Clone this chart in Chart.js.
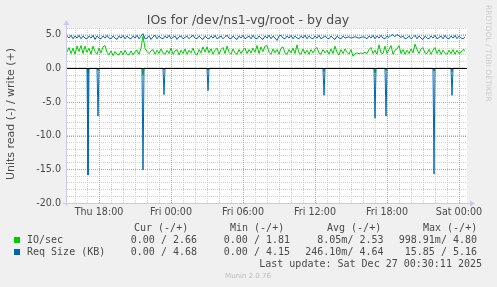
<!DOCTYPE html>
<html>
<head>
<meta charset="utf-8">
<script src="https://cdn.jsdelivr.net/npm/chart.js@4.4.1/dist/chart.umd.min.js"></script>
<style>
html, body { margin: 0; padding: 0; background: #f0f0f0; }
canvas { display: block; }
</style>
</head>
<body>
<canvas id="ioChart" width="497" height="287"></canvas>
<script>
// 10 minute samples, hours counted from Thu 00:00; first sample Thu 15:20
var startHour = 15 + 20 / 60;
var stepHours = 10 / 60;

// write side (+)
var ioWrite = [
    2.4, 3.1, 2.2, 3.0, 2.1, 3.3, 2.5, 3.4, 2.2, 3.3,
    2.4, 3.0, 2.1, 3.3, 2.5, 2.1, 3.0, 2.3, 3.2, 3.4,
    2.4, 2.0, 2.6, 1.9, 2.5, 2.1, 2.0, 2.6, 2.0, 2.7,
    2.1, 2.0, 2.6, 2.0, 2.5, 2.7, 2.1, 3.0, 4.8, 3.0,
    2.5, 2.2, 2.6, 2.8, 2.1, 2.7, 2.2, 2.9, 2.3, 2.1,
    2.7, 2.2, 3.0, 2.1, 2.6, 2.8, 2.0, 2.7, 2.2, 2.9,
    2.1, 2.7, 2.3, 3.0, 2.2, 2.0, 2.8, 2.3, 3.2, 2.4,
    3.2, 2.3, 2.9, 2.1, 2.7, 3.0, 2.1, 2.8, 3.1, 2.2,
    3.3, 2.4, 2.1, 2.9, 2.3, 2.1, 2.8, 2.2, 2.7, 3.0,
    2.2, 2.8, 2.3, 3.0, 2.4, 3.4, 2.2, 3.2, 2.5, 3.3,
    3.4, 2.4, 2.1, 2.9, 2.3, 2.8, 2.1, 3.0, 3.2, 2.3,
    2.1, 2.8, 2.3, 3.0, 2.2, 3.5, 2.3, 2.1, 2.9, 2.2,
    2.7, 2.1, 2.8, 2.3, 2.9, 3.1, 2.3, 2.1, 2.8, 2.3,
    2.7, 2.1, 2.9, 2.2, 3.3, 2.4, 2.0, 2.8, 2.2, 2.9,
    2.4, 2.1, 2.8, 1.81, 2.2, 2.3, 2.2, 2.3, 2.2, 2.4,
    2.2, 2.8, 3.1, 2.2, 2.7, 2.1, 3.5, 2.3, 2.2, 3.3,
    2.2, 2.8, 3.4, 2.1, 2.7, 2.9, 3.4, 2.2, 2.8, 2.1,
    2.7, 2.2, 2.9, 2.3, 3.6, 2.8, 2.2, 2.9, 3.1, 2.3,
    2.2, 2.8, 2.1, 2.7, 3.1, 2.2, 2.8, 2.1, 2.7, 2.3,
    2.1, 2.7, 2.2, 2.8, 2.1, 2.7, 2.2, 2.4, 2.8, 2.66
];
var reqSizeWrite = [
    4.8, 4.5, 4.9, 4.4, 4.8, 4.5, 4.9, 4.4, 4.8, 4.5,
    4.4, 4.8, 4.5, 4.9, 4.3, 4.8, 4.5, 4.4, 4.8, 4.5,
    4.9, 4.5, 4.4, 4.8, 4.5, 4.3, 4.8, 4.5, 4.9, 4.4,
    4.8, 4.5, 4.4, 4.8, 4.5, 4.9, 4.4, 4.8, 5.16, 4.4,
    4.5, 4.8, 4.3, 4.7, 4.9, 4.4, 4.8, 4.5, 4.4, 4.8,
    4.5, 4.9, 4.4, 4.6, 4.8, 4.3, 4.7, 4.8, 4.4, 4.6,
    4.8, 4.4, 4.7, 4.9, 4.5, 4.4, 4.8, 4.5, 4.3, 4.8,
    4.5, 4.4, 4.8, 4.5, 4.9, 4.4, 4.6, 4.8, 4.4, 4.7,
    4.9, 4.5, 4.4, 4.8, 4.5, 4.3, 4.8, 4.5, 4.9, 4.4,
    4.6, 4.8, 4.4, 4.9, 4.5, 4.4, 4.8, 4.5, 4.3, 4.8,
    4.5, 4.9, 4.4, 4.8, 4.5, 4.15, 4.8, 4.9, 4.5, 4.4,
    4.8, 4.5, 4.9, 4.4, 4.8, 4.5, 4.4, 4.8, 4.5, 4.9,
    4.4, 4.8, 4.5, 4.4, 4.8, 4.5, 4.9, 4.4, 4.6, 4.8,
    4.5, 4.4, 4.8, 4.5, 4.3, 4.8, 4.5, 4.4, 4.8, 4.5,
    4.6, 4.7, 4.5, 4.6, 4.7, 4.6, 4.5, 4.6, 4.7, 4.6,
    4.4, 4.8, 4.5, 4.9, 4.4, 4.8, 4.5, 4.9, 4.5, 4.4,
    4.8, 4.6, 4.9, 5.0, 4.7, 5.05, 4.8, 4.6, 4.8, 4.4,
    4.5, 4.8, 4.4, 4.6, 4.9, 4.4, 4.8, 4.5, 4.3, 4.8,
    4.5, 4.4, 4.8, 4.5, 4.9, 4.4, 4.6, 4.8, 4.4, 4.9,
    4.5, 4.4, 4.8, 4.5, 4.9, 4.4, 4.8, 4.5, 4.4, 4.68
];

// read side (-): zero apart from short bursts at these times
var readTimes = [17 + 5 / 60, 17 + 55 / 60, 21 + 40 / 60, 23 + 25 / 60, 27 + 5 / 60,
                 36 + 45 / 60, 41, 41 + 55 / 60, 45 + 55 / 60, 47 + 25 / 60];
var ioRead = [0.6, 0.3, 1.0, 0.2, 0.3, 0.5, 0.7, 0.3, 0.4, 0.5];
var reqSizeRead = [15.85, 7.1, 15.1, 3.9, 3.3, 4.0, 7.4, 7.1, 15.7, 4.0];

var tickHours = [18, 24, 30, 36, 42, 48];
var tickLabels = ['Thu 18:00', 'Fri 00:00', 'Fri 06:00', 'Fri 12:00', 'Fri 18:00', 'Sat 00:00'];
var yMajor = [-20, -15, -10, -5, 0, 5];

var statHeaders = ['Cur (-/+)', 'Min (-/+)', 'Avg (-/+)', 'Max (-/+)'];
var ioStats = ['0.00 / 2.66', '0.00 / 1.81', '8.05m/ 2.53', '998.91m/ 4.80'];
var reqStats = ['0.00 / 4.68', '0.00 / 4.15', '246.10m/ 4.64', '15.85 / 5.16'];

var green = '#00cc00';
var blue = '#0066b3';
var textColor = '#4a4a4a';
var minorGrid = '#d0d0d0';
var majorGrid = '#ef8f8f';
var axisColor = '#c8c8f0';

var lastHour = startHour + (ioWrite.length - 1) * stepHours;

function writePoints(values) {
    return values.map(function (v, i) {
        return { x: startHour + i * stepHours, y: v };
    });
}

function readPoints(values) {
    var pts = [{ x: startHour, y: 0 }];
    readTimes.forEach(function (t, i) {
        pts.push({ x: t - 5 / 60, y: 0 }, { x: t, y: -values[i] }, { x: t + 5 / 60, y: 0 });
    });
    pts.push({ x: lastHour, y: 0 });
    return pts;
}

// background, major grid, zero rule, axis arrows and all the rrdtool style text
var muninLook = {
    id: 'muninLook',
    beforeDraw: function (chart) {
        var c = chart.ctx, a = chart.chartArea;
        c.save();
        c.fillStyle = '#f0f0f0';
        c.fillRect(0, 0, chart.width, chart.height);
        c.fillStyle = '#ffffff';
        c.fillRect(a.left, a.top, a.right - a.left, a.bottom - a.top);
        c.restore();
    },
    beforeDatasetsDraw: function (chart) {
        var c = chart.ctx, a = chart.chartArea;
        var xs = chart.scales.x, ys = chart.scales.y;
        c.save();
        c.strokeStyle = majorGrid;
        c.lineWidth = 1;
        c.setLineDash([1, 1]);
        c.beginPath();
        tickHours.forEach(function (h) {
            var px = Math.round(xs.getPixelForValue(h)) + 0.5;
            c.moveTo(px, a.top);
            c.lineTo(px, a.bottom);
        });
        yMajor.forEach(function (v) {
            var py = Math.round(ys.getPixelForValue(v)) + 0.5;
            c.moveTo(a.left, py);
            c.lineTo(a.right, py);
        });
        c.stroke();
        c.restore();
    },
    afterDatasetsDraw: function (chart) {
        var c = chart.ctx, a = chart.chartArea;
        var y0 = Math.round(chart.scales.y.getPixelForValue(0)) + 0.5;
        c.save();
        c.strokeStyle = '#000000';
        c.lineWidth = 1;
        c.beginPath();
        c.moveTo(a.left, y0);
        c.lineTo(a.right, y0);
        c.stroke();

        // axes with arrow heads
        c.strokeStyle = axisColor;
        c.fillStyle = axisColor;
        c.beginPath();
        c.moveTo(a.left - 0.5, a.bottom + 3);
        c.lineTo(a.left - 0.5, a.top - 4);
        c.moveTo(a.left - 4, a.bottom + 0.5);
        c.lineTo(a.right + 3, a.bottom + 0.5);
        c.stroke();
        c.beginPath();
        c.moveTo(a.left - 3.5, a.top - 3);
        c.lineTo(a.left + 2.5, a.top - 3);
        c.lineTo(a.left - 0.5, a.top - 8);
        c.closePath();
        c.fill();
        c.beginPath();
        c.moveTo(a.right + 3, a.bottom - 2.5);
        c.lineTo(a.right + 3, a.bottom + 3.5);
        c.lineTo(a.right + 8, a.bottom + 0.5);
        c.closePath();
        c.fill();
        c.restore();
    },
    afterDraw: function (chart) {
        var c = chart.ctx;
        c.save();
        c.fillStyle = textColor;
        c.textBaseline = 'alphabetic';
        c.textAlign = 'center';
        c.font = '12.5px "DejaVu Sans"';
        c.fillText('IOs for /dev/ns1-vg/root - by day', 248, 24);

        // y axis title
        c.save();
        c.translate(11, 114);
        c.rotate(-Math.PI / 2);
        c.font = '11px "DejaVu Sans"';
        c.textBaseline = 'middle';
        c.fillText('Units read (-) / write (+)', 0, 0);
        c.restore();

        // vertical watermark on the right
        c.save();
        c.translate(488, 5);
        c.rotate(Math.PI / 2);
        c.font = '7.5px "DejaVu Sans"';
        c.fillStyle = '#cccccc';
        c.textAlign = 'left';
        c.textBaseline = 'middle';
        c.fillText('RRDTOOL / TOBI OETIKER', 0, 0);
        c.restore();

        // legend
        c.font = '10px "DejaVu Sans Mono"';
        c.textBaseline = 'middle';
        c.textAlign = 'left';
        var headX = [134, 230, 327, 423];
        statHeaders.forEach(function (h, i) { c.fillText(h, headX[i], 228); });

        c.fillStyle = green;
        c.fillRect(14, 237, 6, 6);
        c.fillStyle = blue;
        c.fillRect(14, 249, 6, 6);

        c.fillStyle = textColor;
        c.fillText('IO/sec', 27, 240);
        c.fillText('Req Size (KB)', 27, 252);
        var endX = [197, 290, 383.5, 477];
        c.textAlign = 'right';
        ioStats.forEach(function (s, i) { c.fillText(s, endX[i], 240); });
        reqStats.forEach(function (s, i) { c.fillText(s, endX[i], 252); });
        c.fillText('Last update: Sat Dec 27 00:30:11 2025', 482, 264);

        c.textAlign = 'center';
        c.font = '7px "DejaVu Sans"';
        c.fillStyle = '#bbbbbb';
        c.fillText('Munin 2.0.76', 248, 276);
        c.restore();
    }
};

var ctx = document.getElementById('ioChart').getContext('2d');
var ioChart = new Chart(ctx, {
    type: 'line',
    data: {
        datasets: [{
            label: 'Req Size (KB) write',
            data: writePoints(reqSizeWrite),
            borderColor: blue,
            order: 0
        }, {
            label: 'Req Size (KB) read',
            data: readPoints(reqSizeRead),
            borderColor: blue,
            order: 1
        }, {
            label: 'IO/sec write',
            data: writePoints(ioWrite),
            borderColor: green,
            order: 2
        }, {
            label: 'IO/sec read',
            data: readPoints(ioRead),
            borderColor: green,
            order: 3
        }]
    },
    options: {
        responsive: false,
        animation: false,
        devicePixelRatio: 1,
        elements: {
            point: { radius: 0 },
            line: { borderWidth: 1, tension: 0, fill: false }
        },
        layout: { padding: { top: 28, right: 30, bottom: 0, left: 0 } },
        plugins: {
            legend: { display: false },
            title: { display: false },
            tooltip: { enabled: false }
        },
        scales: {
            x: {
                type: 'linear',
                min: startHour,
                max: 48 + 40 / 60,
                afterFit: function (scale) { scale.height = 84; },
                ticks: {
                    stepSize: 1,
                    includeBounds: false,
                    autoSkip: false,
                    maxRotation: 0,
                    padding: 4,
                    color: textColor,
                    font: { family: 'DejaVu Sans', size: 9.6 },
                    callback: function (v) {
                        var k = tickHours.indexOf(v);
                        return k >= 0 ? tickLabels[k] : '';
                    }
                },
                grid: { drawTicks: false, color: minorGrid },
                border: { display: false, dash: [1, 1] }
            },
            y: {
                min: -20,
                max: 6,
                afterFit: function (scale) { scale.width = 67; },
                ticks: {
                    stepSize: 1,
                    autoSkip: false,
                    padding: 6,
                    color: textColor,
                    font: { family: 'DejaVu Sans', size: 9.6 },
                    callback: function (v) { return Math.round(v) % 5 === 0 ? v.toFixed(1) : ''; }
                },
                grid: { drawTicks: false, color: minorGrid },
                border: { display: false, dash: [1, 1] }
            }
        }
    },
    plugins: [muninLook]
});
</script>
</body>
</html>
